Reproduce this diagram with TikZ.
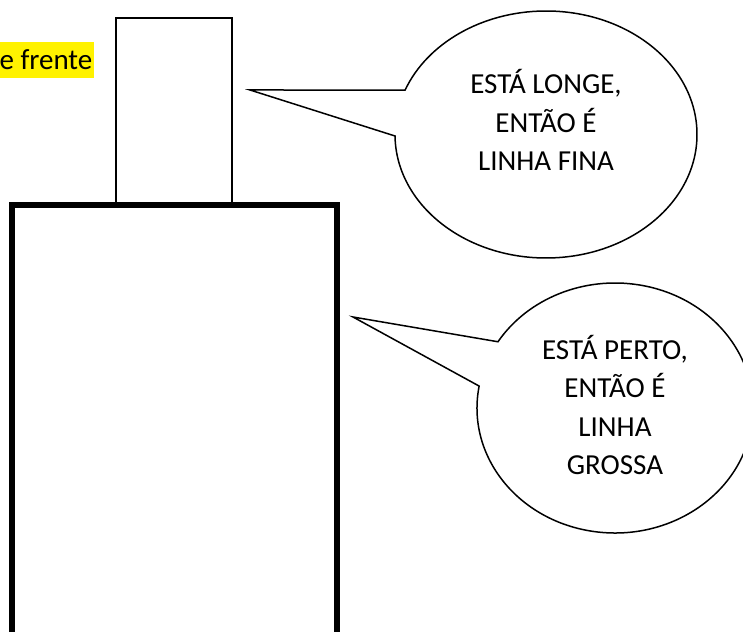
\documentclass[tikz,border=0pt]{standalone}
\usepackage{fontspec}
\setmainfont{Carlito}
\usetikzlibrary{calc}
\begin{document}
\begin{tikzpicture}[x=1pt,y=1pt,
  thinline/.style={line width=1.5pt, draw=black},
  thickline/.style={line width=6pt, draw=black, line join=miter},
  calloutline/.style={line width=1.5pt, draw=black, fill=white, line join=miter},
  txt/.style={font=\fontsize{29}{36}\selectfont, inner sep=0pt, anchor=base},
  hl/.style={fill=yellow, draw=none}]
\useasboundingbox (0,0) rectangle (743,631);
\clip (0,0) rectangle (743,631);
\fill[white] (0,0) rectangle (743,631);
% highlighted text (cut at left edge)
\fill[hl] (0,553) rectangle (94,589);
\node[txt, anchor=base east] (frente) at (92.5,561) {e frente};
% small (far) box
\draw[thinline] (116,426) rectangle (232,613);
% big (near) box, open at bottom
\draw[thickline] (11.5,-10) -- (11.5,426) -- (337,426) -- (337,-10);
% callout 1
\coordinate (tip1) at (250,541);
\draw[calloutline] ($(546,496.5)+(180.7:151 and 123.5)$) arc[start angle=180.7, end angle=518.9, x radius=151, y radius=123.5] -- (tip1) -- cycle;
\node[txt] (l1a) at (546,537) {ESTÁ LONGE,};
\node[txt] (l1b) at (546,498) {ENTÃO É};
\node[txt] (l1c) at (546,460) {LINHA FINA};
% callout 2
\coordinate (tip2) at (353,314);
\draw[calloutline] ($(615,223)+(169.9:138 and 125)$) arc[start angle=169.9, end angle=508, x radius=138, y radius=125] -- (tip2) -- cycle;
\node[txt] (l2a) at (615,271) {ESTÁ PERTO,};
\node[txt] (l2b) at (615,233) {ENTÃO É};
\node[txt] (l2c) at (615,194) {LINHA};
\node[txt] (l2d) at (615,156) {GROSSA};
\end{tikzpicture}
\end{document}
